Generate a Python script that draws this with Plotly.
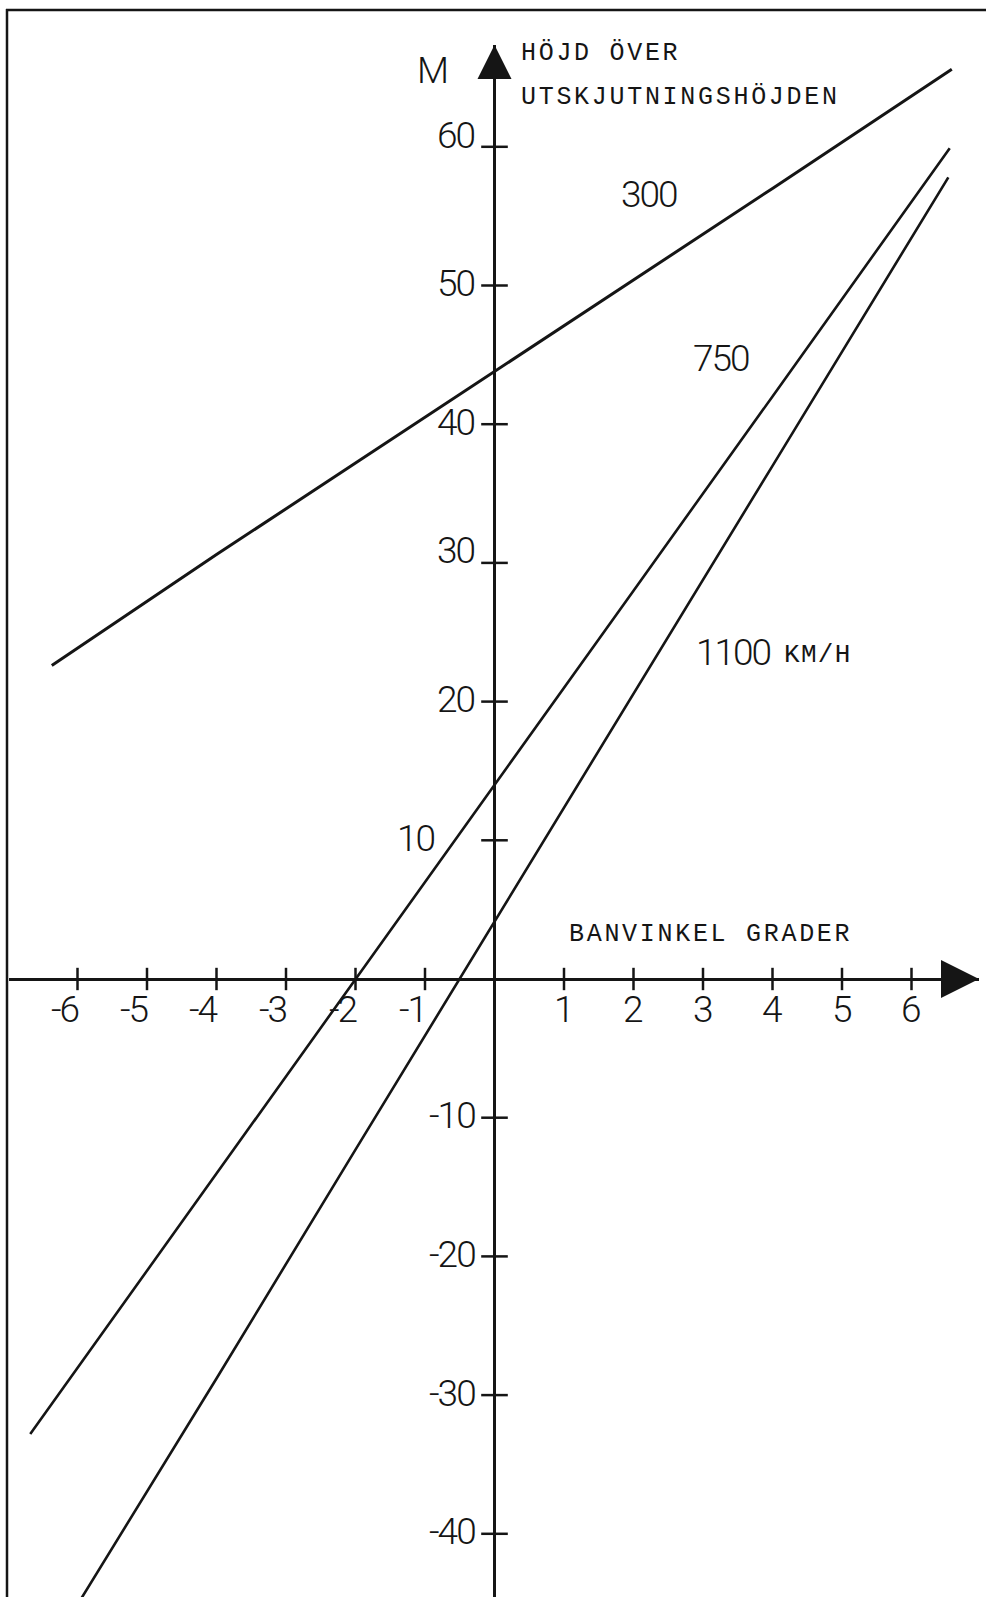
import plotly.graph_objects as go

# ---------------- data ----------------
angle_300 = [-6.37, -4, -2, 0, 2, 4, 6.58]
height_300 = [22.6, 30.6, 37.2, 43.8, 50.4, 57.0, 65.6]

angle_750 = [-6.68, -4, -2, 0, 2, 4, 6.55]
height_750 = [-32.8, -14.0, 0.0, 14.0, 28.0, 42.0, 59.9]

angle_1100 = [-5.95, -4, -2, 0, 2, 4, 6.53]
height_1100 = [-44.7, -28.8, -12.3, 4.1, 20.6, 37.0, 57.8]

x_ticks = [-6, -5, -4, -3, -2, -1, 1, 2, 3, 4, 5, 6]
x_tick_labels = ["-6", "-5", "-4", "-3", "-2", "-1", "1", "2", "3", "4", "5", "6"]
y_ticks = [60, 50, 40, 30, 20, 10, -10, -20, -30, -40]
y_tick_labels = ["60", "50", "40", "30", "20", "10", "-10", "-20", "-30", "-40"]

series_names = ["300", "750", "1100"]
unit_label = "KM/H"
y_title_unit = "M"
y_title_lines = ["HÖJD ÖVER", "UTSKJUTNINGSHÖJDEN"]
x_title = "BANVINKEL GRADER"

# ---------------- layout geometry ----------------
W, H = 986, 1597
PLOT_L, PLOT_R, PLOT_T, PLOT_B = 9, 979, 45, 1597
X0_PX, PX_PER_DEG = 494.5, 69.5
Y0_PX, PX_PER_M = 979.0, 13.87
x_range = [(PLOT_L - X0_PX) / PX_PER_DEG, (PLOT_R - X0_PX) / PX_PER_DEG]
y_range = [(Y0_PX - PLOT_B) / PX_PER_M, (Y0_PX - PLOT_T) / PX_PER_M]

# hand-lettering nudges of individual y labels (pixels)
y_label_nudge_x = {10: -40}
y_label_nudge_y = {60: 9, 30: 10}


def px(xp):
    return (xp - PLOT_L) / (PLOT_R - PLOT_L)


def py(yp):
    return (PLOT_B - yp) / (PLOT_B - PLOT_T)


INK = "#151515"
NUM_FONT = "Roboto, DejaVu Sans Condensed, sans-serif"
CAPS_FONT = "Liberation Mono, DejaVu Sans Mono, monospace"
NUM_LS = "letter-spacing:-2px"


def num(t):
    return f"<span style='{NUM_LS}'>{t}</span>"


NUM_STYLE = dict(family=NUM_FONT, size=37, color=INK, weight=300)

fig = go.Figure()

for xs, ys, w in [(angle_300, height_300, 3.0), (angle_750, height_750, 2.6), (angle_1100, height_1100, 2.6)]:
    fig.add_trace(go.Scatter(x=xs, y=ys, mode="lines", line=dict(color=INK, width=w),
                             hoverinfo="skip", showlegend=False))

# tick marks crossing the axes
fig.add_trace(go.Scatter(x=x_ticks, y=[0] * len(x_ticks), mode="markers",
                         marker=dict(symbol="line-ns-open", size=16, color=INK,
                                     line=dict(color=INK, width=2.5)),
                         hoverinfo="skip", showlegend=False, cliponaxis=False))
fig.add_trace(go.Scatter(x=[0] * len(y_ticks), y=y_ticks, mode="markers",
                         marker=dict(symbol="line-ew-open", size=19, color=INK,
                                     line=dict(color=INK, width=2.5)),
                         hoverinfo="skip", showlegend=False, cliponaxis=False))
# arrow heads at the axis ends
fig.add_trace(go.Scatter(x=[0], y=[y_range[1]], mode="markers",
                         marker=dict(symbol="arrow-up", size=34, color=INK, line=dict(width=0)),
                         hoverinfo="skip", showlegend=False, cliponaxis=False))
fig.add_trace(go.Scatter(x=[x_range[1]], y=[0], mode="markers",
                         marker=dict(symbol="arrow-right", size=38, color=INK, line=dict(width=0)),
                         hoverinfo="skip", showlegend=False, cliponaxis=False))

ann = []
# x tick labels
for v, t in zip(x_ticks, x_tick_labels):
    ann.append(dict(x=v, y=0, xref="x", yref="y", text=num(t), showarrow=False,
                    xanchor="right" if v < 0 else "center", yanchor="middle",
                    xshift=3 if v < 0 else -1, yshift=-30, font=NUM_STYLE))
# y tick labels
for v, t in zip(y_ticks, y_tick_labels):
    ann.append(dict(x=0, y=v, xref="x", yref="y", text=num(t), showarrow=False,
                    xanchor="right", yanchor="middle",
                    xshift=-18 + y_label_nudge_x.get(v, 0), yshift=2 + y_label_nudge_y.get(v, 0),
                    font=NUM_STYLE))

ls = "letter-spacing:2.7px"
CAPS_STYLE = dict(family=CAPS_FONT, size=25, color=INK)
ann += [
    dict(x=px(432.5), y=py(70), text=y_title_unit, xanchor="center", yanchor="middle", font=NUM_STYLE),
    dict(x=px(519), y=py(53.5), text=f"<span style='{ls}'>{y_title_lines[0]}</span>",
         xanchor="left", yanchor="middle", font=CAPS_STYLE),
    dict(x=px(519), y=py(97.5), text=f"<span style='{ls}'>{y_title_lines[1]}</span>",
         xanchor="left", yanchor="middle", font=CAPS_STYLE),
    dict(x=px(567), y=py(934), text=f"<span style='{ls}'>{x_title}</span>",
         xanchor="left", yanchor="middle", font=CAPS_STYLE),
    dict(x=px(649), y=py(195), text=num(series_names[0]), xanchor="center", yanchor="middle",
         font=NUM_STYLE),
    dict(x=px(721), y=py(358.5), text=num(series_names[1]), xanchor="center", yanchor="middle",
         font=NUM_STYLE),
    dict(x=px(694), y=py(652), text=num(series_names[2]), xanchor="left", yanchor="middle",
         font=NUM_STYLE),
    dict(x=px(782), y=py(655), text=f"<span style='letter-spacing:1.3px'>{unit_label}</span>",
         xanchor="left", yanchor="middle", font=dict(family=CAPS_FONT, size=26, color=INK)),
]
for a in ann:
    a.setdefault("xref", "paper")
    a.setdefault("yref", "paper")
    a.setdefault("showarrow", False)

shapes = [
    dict(type="line", xref="paper", yref="paper", x0=px(6), x1=px(992), y0=py(10), y1=py(10),
         line=dict(color=INK, width=2.5)),
    dict(type="line", xref="paper", yref="paper", x0=px(7), x1=px(7), y0=py(9), y1=py(1605),
         line=dict(color=INK, width=2.5)),
]

fig.update_layout(
    width=W, height=H,
    margin=dict(l=PLOT_L, r=W - PLOT_R, t=PLOT_T, b=H - PLOT_B, pad=0),
    paper_bgcolor="white", plot_bgcolor="white",
    showlegend=False,
    xaxis=dict(range=x_range, showgrid=False, showticklabels=False, ticks="", showline=False,
               zeroline=True, zerolinecolor=INK, zerolinewidth=3, fixedrange=True),
    yaxis=dict(range=y_range, showgrid=False, showticklabels=False, ticks="", showline=False,
               zeroline=True, zerolinecolor=INK, zerolinewidth=3, fixedrange=True),
    annotations=ann,
    shapes=shapes,
)

fig.write_html("out.html", config={"displayModeBar": False},
               post_script="document.body.style.margin='0';document.body.style.overflow='hidden';")
